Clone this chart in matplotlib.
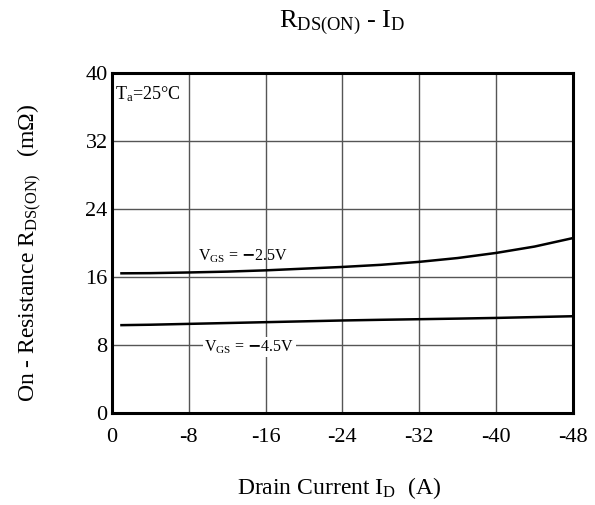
import matplotlib
matplotlib.use('Agg')
import matplotlib.pyplot as plt

plt.rcParams['font.family'] = ['Liberation Serif', 'DejaVu Serif']
plt.rcParams['mathtext.fontset'] = 'custom'
plt.rcParams['mathtext.rm'] = 'Liberation Serif'
plt.rcParams['mathtext.it'] = 'Liberation Serif'

# drain current (A) and on-resistance (mOhm)
i_d = [-1, -4, -8, -12, -16, -20, -24, -28, -32, -36, -40, -44, -48]
r_25 = [16.45, 16.47, 16.55, 16.65, 16.8, 17.0, 17.2, 17.45, 17.8, 18.25, 18.85, 19.6, 20.6]
r_45 = [10.35, 10.4, 10.5, 10.6, 10.7, 10.8, 10.9, 10.98, 11.05, 11.12, 11.2, 11.3, 11.4]

xticks = [0, -8, -16, -24, -32, -40, -48]
yticks = [0, 8, 16, 24, 32, 40]

fig = plt.figure(figsize=(5.95, 5.05), dpi=100)
ax = fig.add_axes([0.188, 0.182, 0.775, 0.673])

ax.plot(i_d, r_25, color='black', linewidth=1.8)
ax.plot(i_d, r_45, color='black', linewidth=1.8)

ax.set_xlim(0, -48)
ax.set_ylim(0, 40)
ax.set_xticks(xticks)
ax.set_xticklabels([str(t) for t in xticks])
ax.set_yticks(yticks)
ax.tick_params(length=0, labelsize=16)
ax.tick_params(axis='x', pad=11)
ax.tick_params(axis='y', pad=3)
ax.grid(True, color='#555555', linewidth=1.0)
for s in ax.spines.values():
    s.set_linewidth(2.2)

ax.text(-0.3, 38.7, r'T$_\mathregular{a}$=25$\degree$C', fontsize=13, va='top', ha='left')
ax.text(-9.0, 18.4, r'V$_\mathregular{GS}$ = $\mathbf{-}$2.5V', fontsize=11.5, va='center')
ax.text(-9.6, 7.8, r'V$_\mathregular{GS}$ = $\mathbf{-}$4.5V', fontsize=11.5, va='center',
        bbox=dict(facecolor='white', edgecolor='none', pad=1))

fig.text(0.575, 0.955, r'R$_\mathregular{DS(ON)}$ - I$_\mathregular{D}$', fontsize=19, ha='center', va='center')
fig.text(0.57, 0.034, r'Drain Current I$_\mathregular{D}$  (A)', fontsize=17, ha='center', va='center')
fig.text(0.05, 0.5, r'On - Resistance R$_\mathregular{DS(ON)}$   (m$\Omega$)', fontsize=17,
         rotation=90, ha='center', va='center')

fig.savefig('out.png', dpi=100)
